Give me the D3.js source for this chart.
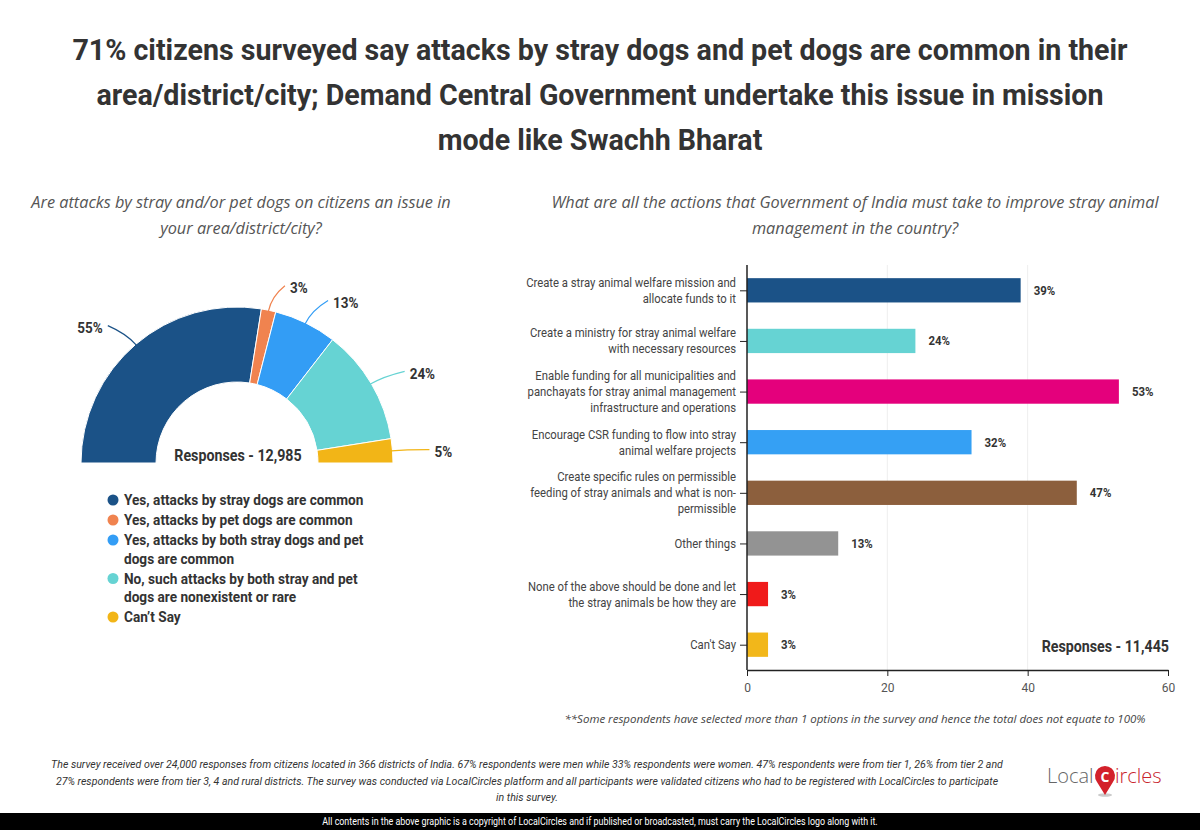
<!DOCTYPE html>
<html>
<head>
<meta charset="utf-8">
<script src="https://cdn.jsdelivr.net/npm/d3@7"></script>
<style>
  body { margin: 0; background: #fff; }
  svg { display: block; }
</style>
</head>
<body>
<svg id="chart"></svg>
<script>
// ---- data ----
const titleLines = [
    "71% citizens surveyed say attacks by stray dogs and pet dogs are common in their",
    "area/district/city; Demand Central Government undertake this issue in mission",
    "mode like Swachh Bharat"
];
const pieQuestion = ["Are attacks by stray and/or pet dogs on citizens an issue in", "your area/district/city?"];
const barQuestion = ["What are all the actions that Government of India must take to improve stray animal", "management in the country?"];

const pieLabels = [
    ["Yes, attacks by stray dogs are common"],
    ["Yes, attacks by pet dogs are common"],
    ["Yes, attacks by both stray dogs and pet", "dogs are common"],
    ["No, such attacks by both stray and pet", "dogs are nonexistent or rare"],
    ["Can\u2019t Say"]
];
const pieValues = [55, 3, 13, 24, 5];
const pieColors = ["#1b5287", "#f0834f", "#339df5", "#66d3d3", "#f2b517"];

const barLabels = [
    ["Create a stray animal welfare mission and", "allocate funds to it"],
    ["Create a ministry for stray animal welfare", "with necessary resources"],
    ["Enable funding for all municipalities and", "panchayats for stray animal management", "infrastructure and operations"],
    ["Encourage CSR funding to flow into stray", "animal welfare projects"],
    ["Create specific rules on permissible", "feeding of stray animals and what is non-", "permissible"],
    ["Other things"],
    ["None of the above should be done and let", "the stray animals be how they are"],
    ["Can't Say"]
];
const barValues = [39, 24, 53, 32, 47, 13, 3, 3];
const barColors = ["#1b5287", "#66d3d3", "#e4007c", "#35a0f4", "#8c5f3d", "#939393", "#f01a1a", "#f2b71a"];
const xTicks = [0, 20, 40, 60];

const footerLines = [
    "The survey received over 24,000 responses from citizens located in 366 districts of India. 67% respondents were men while 33% respondents were women. 47% respondents were from tier 1, 26% from tier 2 and",
    "27% respondents were from tier 3, 4 and rural districts. The survey was conducted via LocalCircles platform and all participants were validated citizens who had to be registered with LocalCircles to participate",
    "in this survey."
];
const copyrightText = "All contents in the above graphic is a copyright of LocalCircles and if published or broadcasted, must carry the LocalCircles logo along with it.";

// ---- setup ----
const width = 1200;
const height = 830;
let svg = d3.select("#chart").attr("width", width).attr("height", height);

// narrow text: roboto squeezed sideways, since no condensed font is around
function narrowText(parent, x, y, str, size, k, opts) {
    opts = opts || {};
    return parent.append("text")
        .attr("transform", `translate(${x}, ${y}) scale(${k}, 1)`)
        .attr("dy", opts.dy || null)
        .attr("text-anchor", opts.anchor || "start")
        .style("font-family", "Roboto, sans-serif")
        .style("font-weight", opts.weight || "normal")
        .style("font-style", opts.style || "normal")
        .style("font-size", size + "px")
        .style("fill", opts.fill || "#333")
        .text(str);
}

// title
svg.append("g").selectAll("text")
    .data(titleLines)
    .enter()
    .append("text")
    .attr("x", 600)
    .attr("y", (d, i) => 60 + i * 45)
    .attr("text-anchor", "middle")
    .style("font-family", "Roboto, sans-serif")
    .style("font-weight", "bold")
    .style("font-size", "28.6px")
    .style("fill", "#333")
    .text(d => d);

function drawQuestion(lines, cx) {
    svg.append("g").selectAll("text")
        .data(lines)
        .enter()
        .append("text")
        .attr("x", cx)
        .attr("y", (d, i) => 208 + i * 26)
        .attr("text-anchor", "middle")
        .style("font-family", "'Open Sans', sans-serif")
        .style("font-style", "italic")
        .style("font-size", "16.3px")
        .style("fill", "#555")
        .text(d => d);
}
drawQuestion(pieQuestion, 241);
drawQuestion(barQuestion, 855);

// ---- half donut ----
const cx = 237, cy = 463, outerR = 156, innerR = 81;
const pie = d3.pie().sort(null).startAngle(-Math.PI / 2).endAngle(Math.PI / 2);
const arcs = pie(pieValues);
const arc = d3.arc().innerRadius(innerR).outerRadius(outerR);

let donut = svg.append("g").attr("transform", `translate(${cx}, ${cy})`);
donut.selectAll("path.slice")
    .data(arcs)
    .enter()
    .append("path")
    .attr("class", "slice")
    .attr("d", arc)
    .style("fill", (d, i) => pieColors[i])
    .style("stroke", "#fff")
    .style("stroke-width", 1);

let polar = (a, r) => [r * Math.sin(a), -r * Math.cos(a)];

arcs.forEach((d, i) => {
    let a = (d.startAngle + d.endAngle) / 2;
    let side = a < 0 ? -1 : 1;
    let p0 = polar(a, outerR - 1);
    let c = polar(a, outerR + 14);
    let lp = polar(a, outerR + 26);
    let tx = lp[0] + side * 16;
    let ty = lp[1] + 3;
    donut.append("path")
        .attr("d", `M${p0[0]},${p0[1]} Q${c[0]},${c[1]} ${tx - side * 5},${ty - 2}`)
        .style("fill", "none")
        .style("stroke", pieColors[i])
        .style("stroke-width", 1.2);
    narrowText(donut, tx, ty, pieValues[i] + "%", 15, 0.9,
        { dy: "0.35em", anchor: side < 0 ? "end" : "start", weight: "bold" });
});

narrowText(svg, 238, 461, "Responses - 12,985", 16, 0.89, { anchor: "middle", weight: "bold" });

// legend
let legend = svg.append("g").attr("transform", "translate(113, 500)");
let ly = 0;
pieLabels.forEach((lines, i) => {
    legend.append("circle")
        .attr("cx", 0)
        .attr("cy", ly)
        .attr("r", 5.5)
        .style("fill", pieColors[i]);
    lines.forEach((line, j) => {
        narrowText(legend, 11, ly + j * 18.5, line, 15.5, 0.88, { dy: "0.35em", weight: "bold" });
    });
    ly += lines.length * 18.5 + 1.5;
});

// ---- horizontal bars ----
const plotLeft = 747, plotRight = 1168, plotTop = 265, plotBottom = 670;
let scX = d3.scaleLinear().domain([0, 60]).range([plotLeft, plotRight]);
let scY = d3.scaleBand()
    .domain(barValues.map((d, i) => i))
    .range([plotTop, plotBottom])
    .paddingInner(0.52)
    .paddingOuter(0.26);

// grid
svg.append("g").selectAll("line")
    .data(xTicks.slice(1, -1))
    .enter()
    .append("line")
    .attr("x1", d => scX(d))
    .attr("x2", d => scX(d))
    .attr("y1", plotTop)
    .attr("y2", plotBottom)
    .style("stroke", "#eee")
    .style("stroke-width", 1);

svg.append("g").selectAll("rect")
    .data(barValues)
    .enter()
    .append("rect")
    .attr("x", scX(0))
    .attr("y", (d, i) => scY(i))
    .attr("width", d => scX(d) - scX(0))
    .attr("height", scY.bandwidth())
    .style("fill", (d, i) => barColors[i]);

let valueG = svg.append("g");
barValues.forEach((d, i) => {
    narrowText(valueG, scX(d) + 13, scY(i) + scY.bandwidth() / 2, d + "%", 13, 0.88,
        { dy: "0.35em", weight: "bold" });
});

// x axis
let axisX = d3.axisBottom(scX).tickValues(xTicks).tickSize(6).tickSizeOuter(0);
let gx = svg.append("g")
    .attr("transform", `translate(0, ${plotBottom})`)
    .call(axisX);
gx.select(".domain").style("stroke", "#222").style("stroke-width", 1.5);
gx.selectAll(".tick line").style("stroke", "#222");
gx.selectAll("text")
    .style("font-family", "Roboto, sans-serif")
    .style("font-size", "12px")
    .style("fill", "#555")
    .attr("dy", "1.1em");

// y axis
let scYc = d3.scalePoint().domain(barValues.map((d, i) => i)).range([scY(0) + scY.bandwidth() / 2, scY(7) + scY.bandwidth() / 2]);
let axisY = d3.axisLeft(scYc).tickSize(7).tickFormat("").tickSizeOuter(0);
let gy = svg.append("g").attr("transform", `translate(${plotLeft}, 0)`).call(axisY);
gy.select(".domain").attr("d", `M0,${plotTop}V${plotBottom}`).style("stroke", "#222").style("stroke-width", 1.5);
gy.selectAll(".tick line").style("stroke", "#222");

let catG = svg.append("g");
barLabels.forEach((lines, i) => {
    let yc = scYc(i);
    let lh = 16;
    lines.forEach((line, j) => {
        narrowText(catG, plotLeft - 11, yc + (j - (lines.length - 1) / 2) * lh, line, 13, 0.87,
            { dy: "0.35em", anchor: "end", fill: "#444" });
    });
});

narrowText(svg, plotRight + 1, 652, "Responses - 11,445", 16, 0.89, { anchor: "end", weight: "bold" });

svg.append("text")
    .attr("x", 855)
    .attr("y", 723)
    .attr("text-anchor", "middle")
    .style("font-family", "'Open Sans', sans-serif")
    .style("font-style", "italic")
    .style("font-size", "11.5px")
    .style("fill", "#444")
    .text("**Some respondents have selected more than 1 options in the survey and hence the total does not equate to 100%");

// ---- footer ----
let footG = svg.append("g");
footerLines.forEach((line, i) => {
    narrowText(footG, 527, 768 + i * 16.5, line, 11.5, 0.92, { anchor: "middle", style: "italic" });
});

svg.append("rect")
    .attr("x", 0)
    .attr("y", 813)
    .attr("width", width)
    .attr("height", 17)
    .style("fill", "#000");
narrowText(svg, 600, 825, copyrightText, 10, 0.89, { anchor: "middle", fill: "#fff" });

// logo
let logo = svg.append("g").attr("transform", "translate(1047, 783)");
logo.append("text")
    .attr("x", 0).attr("y", 0)
    .style("font-family", "'Open Sans', sans-serif")
    .style("font-weight", 300)
    .style("font-size", "20px")
    .style("fill", "#666")
    .text("Local");
logo.append("ellipse").attr("cx", 58).attr("cy", 12).attr("rx", 7).attr("ry", 1.8).style("fill", "#ccc");
logo.append("path")
    .attr("d", "M58,12 L50,-1 A10,10 0 1,1 66,-1 Z")
    .style("fill", "#d3212b");
logo.append("text")
    .attr("x", 58).attr("y", -1)
    .attr("text-anchor", "middle")
    .style("font-family", "'Open Sans', sans-serif")
    .style("font-weight", "bold")
    .style("font-size", "14px")
    .style("fill", "#fff")
    .text("C");
logo.append("text")
    .attr("x", 68).attr("y", 0)
    .style("font-family", "'Open Sans', sans-serif")
    .style("font-weight", 300)
    .style("font-size", "20px")
    .style("fill", "#c8232c")
    .text("ircles");
</script>
</body>
</html>
